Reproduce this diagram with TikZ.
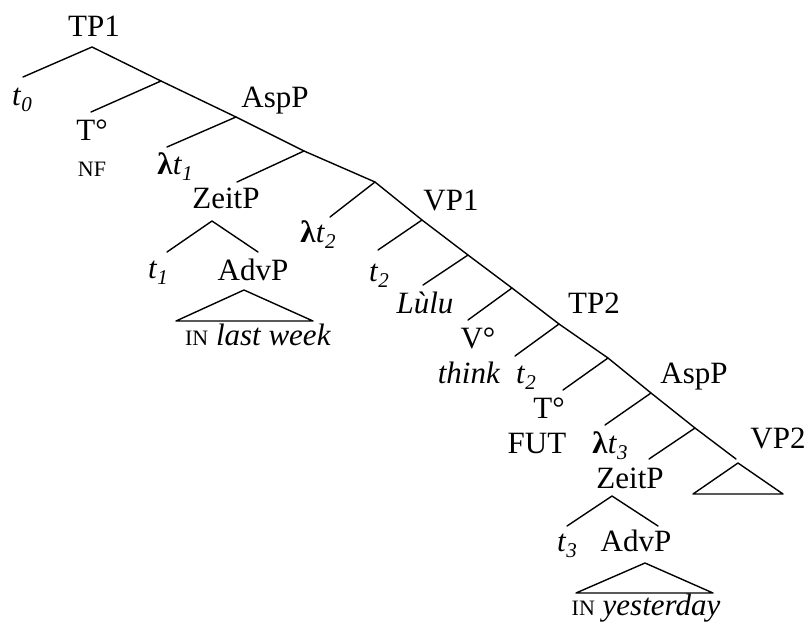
\documentclass[tikz,border=0pt]{standalone}
\usepackage{fontspec}
\setmainfont{Liberation Serif}
\newcommand{\bigf}{\fontsize{31}{36}\selectfont}
\newcommand{\smf}{\fontsize{22}{26}\selectfont}
\newcommand{\subf}{\fontsize{21}{24}\selectfont}
\newcommand{\tsb}[1]{\textit{t}\raisebox{-0.22em}{\subf\itshape #1}}
\newcommand{\lam}{\textbf{λ}}
\begin{document}
\begin{tikzpicture}[x=1pt,y=-1pt,
  lbl/.style={anchor=base, inner sep=0pt, font=\bigf},
  sml/.style={anchor=base, inner sep=0pt, font=\smf},
  edge/.style={line width=1.4pt, line cap=round, line join=round}]
\useasboundingbox (0,0) rectangle (808,625);
% branch points
\coordinate (a0) at (92,47);
\coordinate (t0e) at (23,77);
\coordinate (a1) at (161,81);
\coordinate (te) at (91,112);
\coordinate (a2) at (236,117);
\coordinate (l1e) at (167,147);
\coordinate (a3) at (304,151);
\coordinate (ze) at (237,182);
\coordinate (a4) at (375,182);
\coordinate (l2e) at (330,217);
\coordinate (a5) at (422,220);
\coordinate (t2e) at (378,250);
\coordinate (a6) at (468,255);
\coordinate (lue) at (423,285);
\coordinate (a7) at (512,288);
\coordinate (ve) at (468,320);
\coordinate (a8) at (559,324);
\coordinate (t2be) at (515,356);
\coordinate (a9) at (608,358);
\coordinate (tte) at (563,390);
\coordinate (a10) at (651,393);
\coordinate (l3e) at (605,425);
\coordinate (a11) at (695,428);
\coordinate (z2e) at (649,459);
\coordinate (vpe) at (736,459);
% VP2 triangle
\coordinate (vpa) at (738,463);
\coordinate (vpl) at (693,494);
\coordinate (vpr) at (783,494);
% ZeitP 1
\coordinate (z1a) at (212,221);
\coordinate (z1l) at (167,252);
\coordinate (z1r) at (258,252);
\coordinate (d1a) at (244,290);
\coordinate (d1l) at (176,321);
\coordinate (d1r) at (313,321);
% ZeitP 2
\coordinate (z2a) at (612,496);
\coordinate (z2l) at (567,526);
\coordinate (z2r) at (658,526);
\coordinate (d2a) at (645,563);
\coordinate (d2l) at (576,593);
\coordinate (d2r) at (713,593);

% texts
\node[lbl] (tp1) at (94,36) {TP1};
\node[lbl] (t0) at (22,105) {\tsb{0}};
\node[lbl] (T1) at (92,140) {T°};
\node[sml] (nf) at (92,176) {NF};
\node[lbl] (asp1) at (275,107) {AspP};
\node[lbl] (lt1) at (175,174) {\lam\tsb{1}};
\node[lbl] (zeit1) at (226,208) {ZeitP};
\node[lbl] (lt2) at (318,242) {\lam\tsb{2}};
\node[lbl] (vp1) at (451,210) {VP1};
\node[lbl] (t1) at (158,278) {\tsb{1}};
\node[lbl] (adv1) at (253,280) {AdvP};
\node[lbl] (lw) at (258,345) {{\smf IN} \textit{last week}};
\node[lbl] (t2) at (379,281) {\tsb{2}};
\node[lbl] (lulu) at (425,313) {\textit{Lùlu}};
\node[lbl] (tp2) at (594,313) {TP2};
\node[lbl] (V) at (478,348) {V°};
\node[lbl] (think) at (469,383) {\textit{think}};
\node[lbl] (t2b) at (526,383) {\tsb{2}};
\node[lbl] (asp2) at (694,383) {AspP};
\node[lbl] (T2) at (549,418) {T°};
\node[lbl] (fut) at (537,453) {FUT};
\node[lbl] (lt3) at (610,453) {\lam\tsb{3}};
\node[lbl] (vp2) at (778,448) {VP2};
\node[lbl] (zeit2) at (630,488) {ZeitP};
\node[lbl] (t3) at (567,551) {\tsb{3}};
\node[lbl] (adv2) at (636,551) {AdvP};
\node[lbl] (yd) at (646,615) {{\smf IN} \textit{yesterday}};

% edges
\draw[edge] (t0e) -- (a0) -- (a1) -- (a2) -- (a3) -- (a4) -- (a5) -- (a6) -- (a7) -- (a8) -- (a9) -- (a10) -- (a11) -- (vpe);
\draw[edge] (a1) -- (te);
\draw[edge] (a2) -- (l1e);
\draw[edge] (a3) -- (ze);
\draw[edge] (a4) -- (l2e);
\draw[edge] (a5) -- (t2e);
\draw[edge] (a6) -- (lue);
\draw[edge] (a7) -- (ve);
\draw[edge] (a8) -- (t2be);
\draw[edge] (a9) -- (tte);
\draw[edge] (a10) -- (l3e);
\draw[edge] (a11) -- (z2e);
\draw[edge] (vpl) -- (vpa) -- (vpr) -- cycle;
\draw[edge] (z1l) -- (z1a) -- (z1r);
\draw[edge] (d1l) -- (d1a) -- (d1r) -- cycle;
\draw[edge] (z2l) -- (z2a) -- (z2r);
\draw[edge] (d2l) -- (d2a) -- (d2r) -- cycle;
\end{tikzpicture}
\end{document}
